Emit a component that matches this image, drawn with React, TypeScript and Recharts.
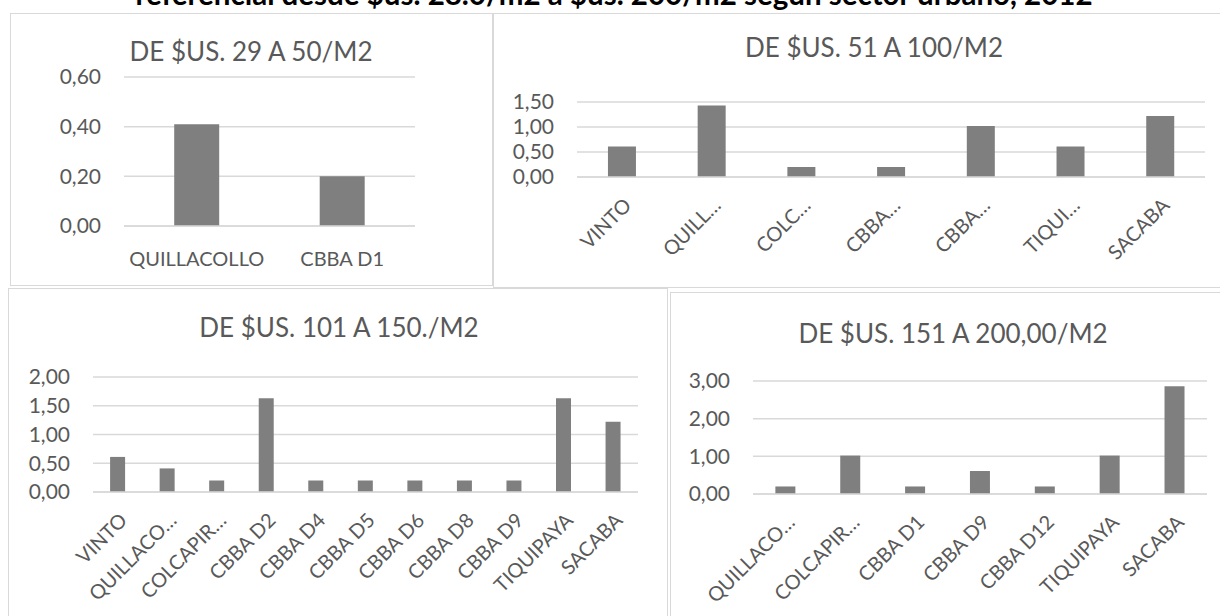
import React from 'react';
import { BarChart, Bar, XAxis, YAxis, CartesianGrid } from 'recharts';

const FONT = 'Lato, "Open Sans", sans-serif';
const TEXT = '#595959';
const GRID = '#d9d9d9';
const BAR = '#7f7f7f';

const pageTitle =
  'referencial desde $us. 28.0/m2 a $us. 200/m2 según sector urbano, 2012';

const p1Title = 'DE $US. 29 A 50/M2';
const p1Labels = ['QUILLACOLLO', 'CBBA D1'];
const p1Values = [0.41, 0.2];
const p1Ticks = [0, 0.2, 0.4, 0.6];

const p2Title = 'DE $US. 51 A 100/M2';
const p2Labels = ['VINTO', 'QUILL…', 'COLC…', 'CBBA…', 'CBBA…', 'TIQUI…', 'SACABA'];
const p2Values = [0.61, 1.43, 0.2, 0.2, 1.02, 0.61, 1.22];
const p2Ticks = [0, 0.5, 1, 1.5];

const p3Title = 'DE $US. 101 A 150./M2';
const p3Labels = [
  'VINTO',
  'QUILLACO…',
  'COLCAPIR…',
  'CBBA D2',
  'CBBA D4',
  'CBBA D5',
  'CBBA D6',
  'CBBA D8',
  'CBBA D9',
  'TIQUIPAYA',
  'SACABA',
];
const p3Values = [0.61, 0.41, 0.2, 1.63, 0.2, 0.2, 0.2, 0.2, 0.2, 1.63, 1.22];
const p3Ticks = [0, 0.5, 1, 1.5, 2];

const p4Title = 'DE $US. 151 A 200,00/M2';
const p4Labels = ['QUILLACO…', 'COLCAPIR…', 'CBBA D1', 'CBBA D9', 'CBBA D12', 'TIQUIPAYA', 'SACABA'];
const p4Values = [0.2, 1.02, 0.2, 0.61, 0.2, 1.02, 2.86];
const p4Ticks = [0, 1, 2, 3];

type Box = { left: number; top: number; width: number; height: number };
type Plot = { left: number; top: number; right: number; bottom: number };

interface PanelProps {
  box: Box;
  plot: Plot;
  title: string;
  titleX: number;
  titleY: number;
  labels: string[];
  values: number[];
  ticks: number[];
  rotate?: boolean;
}

const fmt = (v: number) => v.toFixed(2).replace('.', ',');

function Panel({ box, plot, title, titleX, titleY, labels, values, ticks, rotate }: PanelProps) {
  const data = labels.map((label, i) => ({ id: `c${i}`, label, value: values[i] }));
  const xAxisHeight = 100;
  const marginTop = plot.top - box.top;
  const marginRight = box.left + box.width - plot.right;
  const yAxisWidth = plot.left - box.left;
  const marginBottom = box.height - (plot.bottom - box.top) - xAxisHeight;

  const renderTick = (props: any) => {
    const { x, y, index } = props;
    const label = labels[index] ?? '';
    if (rotate) {
      const ax = x + 5;
      const ay = y + 18;
      return (
        <text
          x={ax}
          y={ay}
          transform={`rotate(-45, ${ax}, ${ay})`}
          textAnchor="end"
          dominantBaseline="central"
          fill={TEXT}
          fontSize={20}
          fontFamily={FONT}
        >
          {label}
        </text>
      );
    }
    return (
      <text x={x} y={y + 8} textAnchor="middle" dominantBaseline="central" fill={TEXT} fontSize={20} fontFamily={FONT}>
        {label}
      </text>
    );
  };

  return (
    <>
      <div
        style={{
          position: 'absolute',
          left: box.left,
          top: box.top,
          width: box.width,
          height: box.height,
          border: `1px solid ${GRID}`,
          boxSizing: 'border-box',
          background: '#fff',
        }}
      />
      <div
        style={{
          position: 'absolute',
          left: titleX - 300,
          top: titleY - 17,
          width: 600,
          height: 34,
          lineHeight: '34px',
          textAlign: 'center',
          color: TEXT,
          fontFamily: FONT,
          fontSize: 26,
          whiteSpace: 'nowrap',
        }}
      >
        {title}
      </div>
      <div style={{ position: 'absolute', left: box.left, top: box.top }}>
        <BarChart
          width={box.width}
          height={box.height}
          data={data}
          margin={{ top: marginTop, right: marginRight, bottom: marginBottom, left: 0 }}
          barCategoryGap="34.5%"
        >
          <CartesianGrid vertical={false} stroke={GRID} strokeWidth={1.5} />
          <XAxis
            dataKey="id"
            height={xAxisHeight}
            axisLine={{ stroke: GRID, strokeWidth: 1.5 }}
            tickLine={false}
            tickSize={0}
            tickMargin={rotate ? 6 : 24}
            interval={0}
            tick={renderTick}
          />
          <YAxis
            width={yAxisWidth}
            domain={[0, ticks[ticks.length - 1]]}
            ticks={ticks}
            interval={0}
            axisLine={false}
            tickLine={false}
            tickSize={0}
            tickMargin={23}
            tickFormatter={fmt}
            tick={{ fill: TEXT, fontSize: 21, fontFamily: FONT }}
          />
          <Bar dataKey="value" fill={BAR} isAnimationActive={false} />
        </BarChart>
      </div>
    </>
  );
}

export default function App() {
  return (
    <div
      style={{
        position: 'absolute',
        left: 0,
        top: 0,
        width: 1220,
        height: 616,
        overflow: 'hidden',
        background: '#fff',
      }}
    >
      <svg width={1220} height={12} style={{ position: 'absolute', left: 0, top: 0 }}>
        <text x={614} y={5} textAnchor="middle" fontFamily={FONT} fontWeight="bold" fontSize={29.5} fill="#000">
          {pageTitle}
        </text>
      </svg>
      <Panel
        box={{ left: 10, top: 13, width: 483, height: 273 }}
        plot={{ left: 124, top: 77, right: 415, bottom: 226 }}
        title={p1Title}
        titleX={251}
        titleY={51}
        labels={p1Labels}
        values={p1Values}
        ticks={p1Ticks}
      />
      <Panel
        box={{ left: 493, top: 13, width: 760, height: 275 }}
        plot={{ left: 577, top: 102, right: 1205, bottom: 177 }}
        title={p2Title}
        titleX={874}
        titleY={47}
        labels={p2Labels}
        values={p2Values}
        ticks={p2Ticks}
        rotate
      />
      <Panel
        box={{ left: 8, top: 288, width: 660, height: 340 }}
        plot={{ left: 93, top: 377, right: 638, bottom: 492 }}
        title={p3Title}
        titleX={339}
        titleY={327}
        labels={p3Labels}
        values={p3Values}
        ticks={p3Ticks}
        rotate
      />
      <Panel
        box={{ left: 670, top: 292, width: 580, height: 340 }}
        plot={{ left: 753, top: 381, right: 1207, bottom: 494 }}
        title={p4Title}
        titleX={953}
        titleY={333}
        labels={p4Labels}
        values={p4Values}
        ticks={p4Ticks}
        rotate
      />
    </div>
  );
}
